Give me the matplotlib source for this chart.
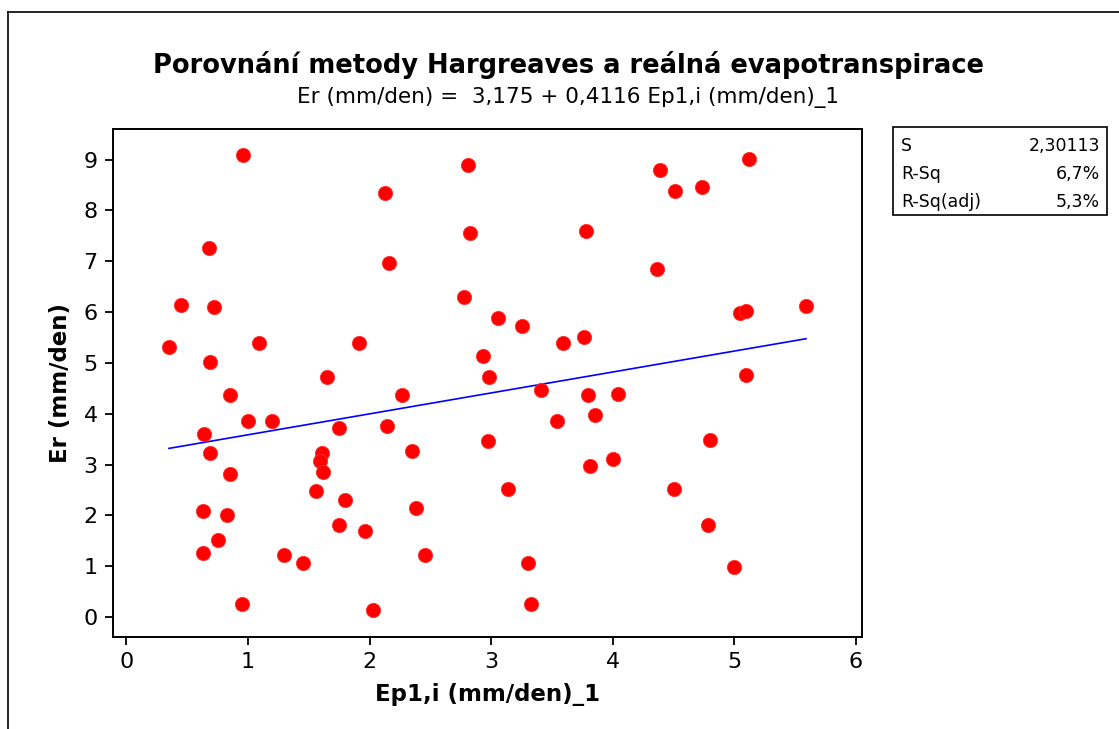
"""Porovnání metody Hargreaves a reálná evapotranspirace - fitted line plot."""
import numpy as np
import matplotlib
matplotlib.use("Agg")
import matplotlib.pyplot as plt
from matplotlib.lines import Line2D
from matplotlib.patches import Rectangle

# data
ep1 = [0.35, 0.45, 0.68, 0.72, 0.69, 0.64, 0.69, 0.85, 0.85, 0.63, 0.83, 0.75,
       0.63, 0.95, 0.96, 1.09, 1.00, 1.20, 1.30, 1.45, 1.65, 1.61, 1.59, 1.62,
       1.56, 1.75, 1.80, 1.75, 1.96, 2.03, 2.13, 2.16, 1.91, 2.14, 2.27, 2.35,
       2.38, 2.46, 2.81, 2.83, 2.78, 2.93, 2.98, 2.97, 3.06, 3.25, 3.59, 3.76,
       3.41, 3.80, 4.04, 3.54, 3.85, 4.80, 4.00, 3.81, 3.14, 4.50, 4.78, 3.30,
       5.00, 3.33, 5.12, 4.39, 4.51, 4.73, 3.78, 4.36, 5.05, 5.10, 5.59, 5.10]
er = [5.32, 6.14, 7.26, 6.10, 5.02, 3.60, 3.23, 4.36, 2.82, 2.09, 2.00, 1.52,
      1.26, 0.25, 9.09, 5.40, 3.86, 3.86, 1.22, 1.07, 4.72, 3.23, 3.08, 2.85,
      2.49, 3.72, 2.30, 1.82, 1.70, 0.14, 8.35, 6.97, 5.40, 3.76, 4.36, 3.27,
      2.15, 1.22, 8.90, 7.55, 6.29, 5.14, 4.72, 3.46, 5.88, 5.73, 5.39, 5.51,
      4.46, 4.36, 4.39, 3.86, 3.98, 3.49, 3.12, 2.97, 2.53, 2.53, 1.81, 1.07,
      0.99, 0.25, 9.01, 8.79, 8.38, 8.45, 7.60, 6.85, 5.99, 6.03, 6.11, 4.76]

INTERCEPT = 3.175
SLOPE = 0.4116
stat_names = ["S", "R-Sq", "R-Sq(adj)"]
stat_values = ["2,30113", "6,7%", "5,3%"]

x_ticks = [0, 1, 2, 3, 4, 5, 6]
y_ticks = [0, 1, 2, 3, 4, 5, 6, 7, 8, 9]

W, H = 1119, 729
fig = plt.figure(figsize=(W / 100, H / 100), dpi=100)
ax = fig.add_axes([113 / W, 1 - 637 / H, (862 - 113) / W, (637 - 129) / H])

ax.scatter(ep1, er, s=105, color="#ff0000", edgecolors="#ff3030",
           linewidths=0.6, zorder=3)

xs = np.sort(np.array(ep1))
ax.plot(xs, INTERCEPT + SLOPE * xs, color="#0000ff", linewidth=1.2, zorder=2)

ax.set_xlim(-0.11, 6.05)
ax.set_ylim(-0.39, 9.6)
ax.set_xticks(x_ticks)
ax.set_yticks(y_ticks)
ax.tick_params(direction="out", length=6, width=1.3, labelsize=16, pad=5)
for sp in ax.spines.values():
    sp.set_linewidth(1.4)

ax.set_xlabel("Ep1,i (mm/den)_1", fontsize=16.5, fontweight="bold", labelpad=8)
ax.set_ylabel("Er (mm/den)", fontsize=16.5, fontweight="bold", labelpad=8)

fig.text(0.508, 1 - 65 / H, "Porovnání metody Hargreaves a reálná evapotranspirace",
         ha="center", va="center", fontsize=18.5, fontweight="bold")
fig.text(0.508, 1 - 97 / H, "Er (mm/den) =  3,175 + 0,4116 Ep1,i (mm/den)_1",
         ha="center", va="center", fontsize=15.5)

# statistics box
bx0, bx1, by0, by1 = 893, 1107, 127, 215
fig.patches.append(Rectangle((bx0 / W, 1 - by1 / H), (bx1 - bx0) / W,
                             (by1 - by0) / H, transform=fig.transFigure,
                             fill=False, edgecolor="black", linewidth=1.2))
for i, (name, val) in enumerate(zip(stat_names, stat_values)):
    yy = 1 - (146 + 28 * i) / H
    fig.text((bx0 + 8) / W, yy, name, ha="left", va="center", fontsize=12.5)
    fig.text((bx1 - 7) / W, yy, val, ha="right", va="center", fontsize=12.5)

# outer frame
fig.lines.append(Line2D([8 / W, 8 / W], [0, 1 - 12 / H], transform=fig.transFigure,
                        color="black", linewidth=1.2))
fig.lines.append(Line2D([8 / W, 1], [1 - 12 / H, 1 - 12 / H], transform=fig.transFigure,
                        color="black", linewidth=1.2))

fig.savefig("out.png", dpi=100)
